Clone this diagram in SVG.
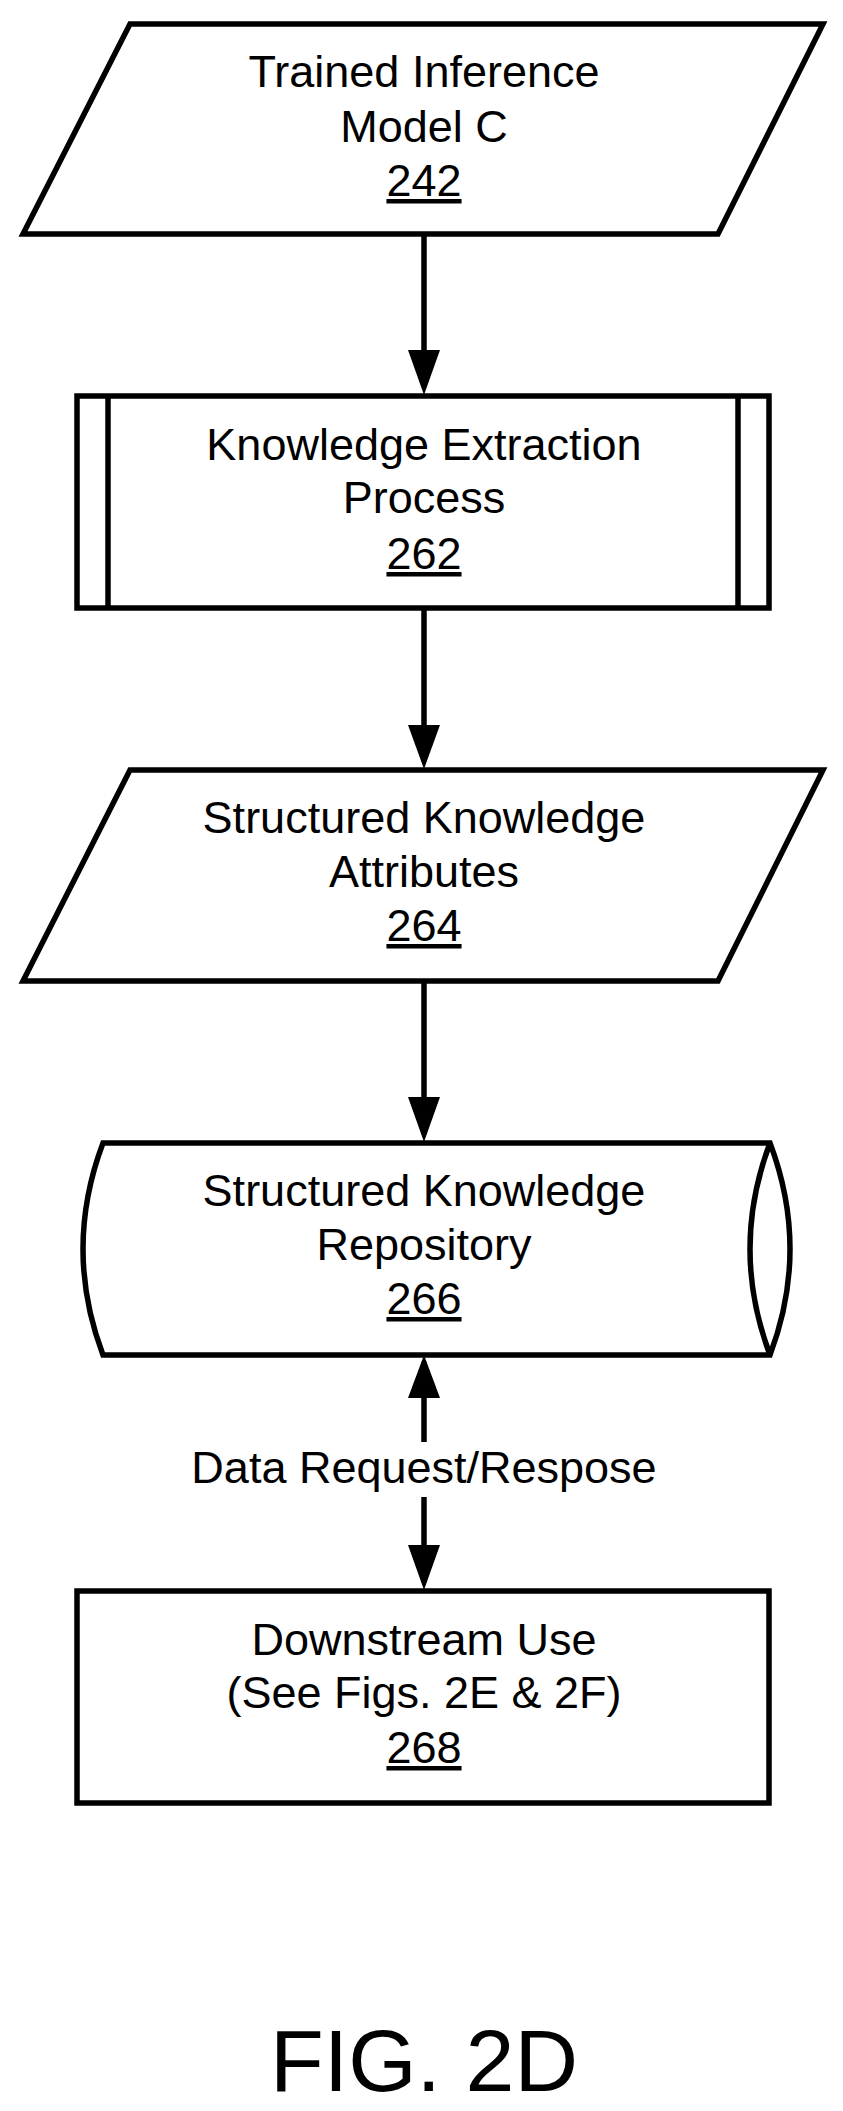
<svg xmlns="http://www.w3.org/2000/svg" width="843" height="2111" viewBox="0 0 843 2111">
<defs>
<style>
.s{fill:#fff;stroke:#000;stroke-width:5.5;stroke-linejoin:miter}
.t{font-family:"Liberation Sans",Arial,sans-serif;font-size:45px;text-anchor:middle;fill:#000}
.c{stroke:#000;stroke-width:5.5;fill:none}
.h{fill:#000}
</style>
</defs>
<rect width="843" height="2111" fill="#fff"/>
<g id="connectors">
<line class="c" x1="424" y1="234" x2="424" y2="355"/>
<polygon class="h" points="408,350 440,350 424,395"/>
<line class="c" x1="424" y1="608" x2="424" y2="730"/>
<polygon class="h" points="408,725 440,725 424,769"/>
<line class="c" x1="424" y1="981" x2="424" y2="1102"/>
<polygon class="h" points="408,1097 440,1097 424,1142"/>
<line class="c" x1="424" y1="1393" x2="424" y2="1442"/>
<polygon class="h" points="408,1398 440,1398 424,1355"/>
<line class="c" x1="424" y1="1497" x2="424" y2="1550"/>
<polygon class="h" points="408,1545 440,1545 424,1590"/>
<text class="t" x="424" y="1483">Data Request/Respose</text>
</g>
<g id="n242">
<polygon class="s" points="130,24 823,24 718,234 23,234"/>
<text class="t" x="424" y="87">Trained Inference</text>
<text class="t" x="424" y="142">Model C</text>
<text class="t" x="424" y="196" text-decoration="underline">242</text>
</g>
<g id="n262">
<rect class="s" x="77" y="396" width="692" height="212"/>
<line class="c" x1="108" y1="396" x2="108" y2="608"/>
<line class="c" x1="738" y1="396" x2="738" y2="608"/>
<text class="t" x="424" y="460">Knowledge Extraction</text>
<text class="t" x="424" y="513">Process</text>
<text class="t" x="424" y="569" text-decoration="underline">262</text>
</g>
<g id="n264">
<polygon class="s" points="130,770 823,770 718,981 23,981"/>
<text class="t" x="424" y="833">Structured Knowledge</text>
<text class="t" x="424" y="887">Attributes</text>
<text class="t" x="424" y="941" text-decoration="underline">264</text>
</g>
<g id="n266">
<path class="s" d="M103,1143 L770,1143 Q810,1249 770,1355 L103,1355 Q63,1249 103,1143 Z"/>
<path class="c" d="M770,1143 Q730,1249 770,1355"/>
<text class="t" x="424" y="1206">Structured Knowledge</text>
<text class="t" x="424" y="1260">Repository</text>
<text class="t" x="424" y="1314" text-decoration="underline">266</text>
</g>
<g id="n268">
<rect class="s" x="77" y="1591" width="692" height="212"/>
<text class="t" x="424" y="1655">Downstream Use</text>
<text class="t" x="424" y="1708">(See Figs. 2E &amp; 2F)</text>
<text class="t" x="424" y="1763" text-decoration="underline">268</text>
</g>
<text x="424" y="2091" font-family="Liberation Sans,Arial,sans-serif" font-size="88" text-anchor="middle">FIG. 2D</text>
</svg>
